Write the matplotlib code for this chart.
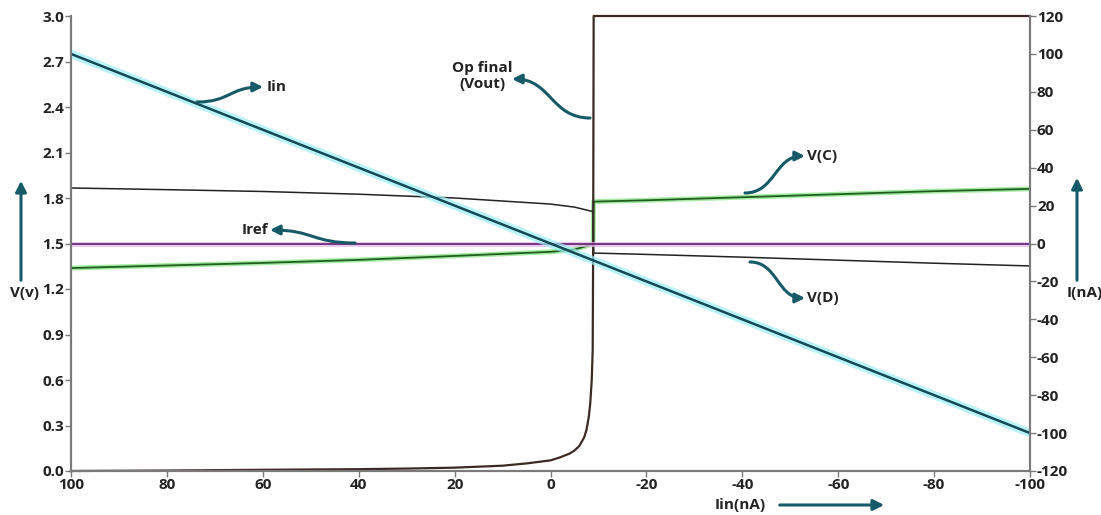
import matplotlib
matplotlib.use("Agg")
import matplotlib.pyplot as plt
from matplotlib.patches import FancyArrowPatch
from matplotlib.path import Path

plt.rcParams['font.family'] = ['Open Sans', 'DejaVu Sans']
plt.rcParams['font.weight'] = 'bold'

# sweep values (Iin in nA)
vc_x = [100, 80, 60, 40, 20, 0, -5, -8.9, -9.0, -20, -40, -60, -80, -100]
vc_v = [1.338, 1.355, 1.372, 1.392, 1.418, 1.445, 1.46, 1.497, 1.776, 1.785, 1.805, 1.825, 1.845, 1.86]

vd_x = [100, 80, 60, 40, 20, 10, 0, -5, -8.9, -9.0, -20, -40, -60, -80, -100]
vd_v = [1.866, 1.855, 1.843, 1.825, 1.80, 1.78, 1.76, 1.74, 1.71, 1.437, 1.428, 1.41, 1.39, 1.37, 1.352]

vout_x = [100, 80, 60, 40, 30, 20, 10, 5, 0, -2, -4, -5, -6, -7, -7.5, -8, -8.3, -8.6, -8.8, -8.9, -9.0, -100]
vout_v = [0.0, 0.003, 0.008, 0.012, 0.016, 0.022, 0.035, 0.05, 0.07, 0.09, 0.115, 0.135, 0.165,
          0.22, 0.27, 0.36, 0.45, 0.6, 0.8, 1.5, 3.0, 3.0]

iin_x = [100, -100]
iin_i = [100, -100]
iref_x = [100, -100]
iref_i = [0, 0]

v_ticks = [0.0, 0.3, 0.6, 0.9, 1.2, 1.5, 1.8, 2.1, 2.4, 2.7, 3.0]
i_ticks = [-120, -100, -80, -60, -40, -20, 0, 20, 40, 60, 80, 100, 120]
x_ticks = [100, 80, 60, 40, 20, 0, -20, -40, -60, -80, -100]

teal = '#165a68'
spine_c = '#7a7a7a'
W, H = 1101, 515

fig = plt.figure(figsize=(W / 100, H / 100), dpi=100)
ax = fig.add_axes([71/W, 1 - 471/H, (1030 - 71)/W, (471 - 16)/H])
ax2 = ax.twinx()

ax.set_xlim(100, -100)
ax.set_ylim(0, 3)
ax2.set_ylim(-120, 120)

# voltage curves
ax.plot(vc_x, vc_v, color='#8ee68a', lw=3.5, alpha=0.8)
ax.plot(vc_x, vc_v, color='#1f5e1f', lw=1.3)
ax.plot(vd_x, vd_v, color='#222222', lw=1.1)
ax.plot(vout_x, vout_v, color='#3a2a26', lw=1.6, clip_on=False)

# currents on right axis
ax2.plot(iref_x, iref_i, color='#e6b8ea', lw=3.5, alpha=0.8)
ax2.plot(iref_x, iref_i, color='#6a2a7a', lw=1.3)
ax2.plot(iin_x, iin_i, color='#9ceef5', lw=6, alpha=0.7)
ax2.plot(iin_x, iin_i, color='#124a56', lw=1.8)

for a in (ax, ax2):
    a.spines['top'].set_visible(False)
    for s in a.spines.values():
        s.set_color(spine_c)
        s.set_linewidth(1.5)
    a.tick_params(colors=spine_c, length=4, width=1, labelsize=11, labelcolor='#222222', pad=1)

ax.set_xticks(x_ticks)
ax.set_xticklabels([str(t) for t in x_ticks])
ax.set_yticks(v_ticks)
ax.set_yticklabels(['%.1f' % t for t in v_ticks])
ax2.set_yticks(i_ticks)
ax2.set_yticklabels([str(t) for t in i_ticks])


def fx(px, py):
    return (px / W, 1 - py / H)


def s_arrow(p0, p1):
    # S shaped callout arrow, horizontal at both ends
    xm = (p0[0] + p1[0]) / 2
    pts = [fx(*p0), fx(xm, p0[1]), fx(xm, p1[1]), fx(*p1)]
    path = Path(pts, [Path.MOVETO, Path.CURVE4, Path.CURVE4, Path.CURVE4])
    fig.add_artist(FancyArrowPatch(path=path, transform=fig.transFigure, arrowstyle='-|>',
                                   color=teal, lw=2.2, mutation_scale=14))


def up_arrow(x0, y0, x1, y1):
    fig.add_artist(FancyArrowPatch(fx(x0, y0), fx(x1, y1), transform=fig.transFigure,
                                   arrowstyle='-|>', color=teal, lw=2.2, mutation_scale=16))


def label(px, py, s, ha='left'):
    x, y = fx(px, py)
    fig.text(x, y, s, fontsize=11, ha=ha, va='center', color='#222222', linespacing=1.2)


# callouts
label(267, 87, 'Iin')
s_arrow((197, 102), (263, 87))
label(482, 76, 'Op final\n(Vout)', ha='center')
s_arrow((590, 118), (512, 79))
label(807, 156, 'V(C)')
s_arrow((745, 193), (805, 156))
label(807, 298, 'V(D)')
s_arrow((750, 262), (805, 298))
label(268, 230, 'Iref', ha='right')
s_arrow((355, 243), (270, 230))

# axis names with arrows
label(25, 293, 'V(v)', ha='center')
up_arrow(21, 283, 21, 178)
label(1085, 293, 'I(nA)', ha='center')
up_arrow(1077, 283, 1077, 175)
label(740, 505, 'Iin(nA)', ha='center')
up_arrow(777, 505, 887, 505)

fig.savefig('out.png', dpi=100, facecolor='white')
